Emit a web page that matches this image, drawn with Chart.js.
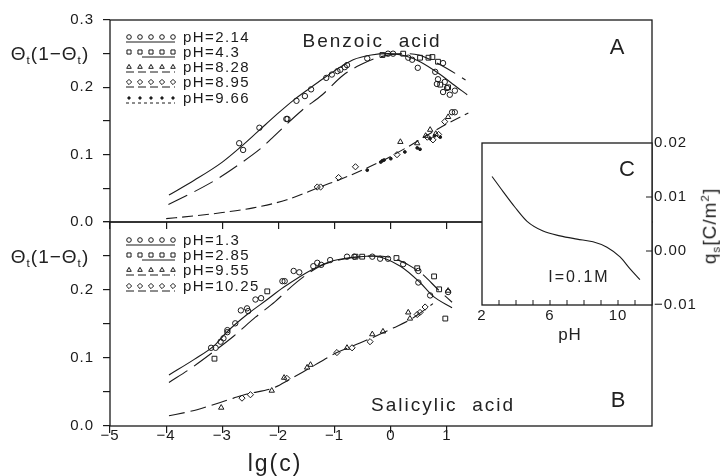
<!DOCTYPE html>
<html><head><meta charset="utf-8">
<script src="https://cdn.jsdelivr.net/npm/chart.js@4"></script>
<style>
html,body{margin:0;padding:0;background:#fff;}
#wrap{position:relative;width:725px;height:476px;overflow:hidden;font-family:"Liberation Sans",Arial,sans-serif;color:#222;}
canvas{position:absolute;left:0;top:0;}
.lbl{position:absolute;transform:translate(-50%,-50%);white-space:nowrap;line-height:1;z-index:5;}
.lbl sub{font-size:0.62em;vertical-align:-0.3em;}
.lbl sup{font-size:0.62em;vertical-align:0.6em;}
</style></head>
<body><div id="wrap">
<canvas id="cA" width="725" height="476"></canvas>
<canvas id="cB" width="725" height="476"></canvas>
<canvas id="cC" width="725" height="476"></canvas>
<div class="lbl" style="left:50px;top:55px;font-size:19px;letter-spacing:1px">Θ<sub>t</sub>(1−Θ<sub>t</sub>)</div>
<div class="lbl" style="left:50px;top:258px;font-size:19px;letter-spacing:1px">Θ<sub>t</sub>(1−Θ<sub>t</sub>)</div>
<div class="lbl" style="left:372px;top:40px;font-size:19px;letter-spacing:2px">Benzoic&nbsp; acid</div>
<div class="lbl" style="left:617px;top:47px;font-size:22px">A</div>
<div class="lbl" style="left:443px;top:404px;font-size:19px;letter-spacing:2px">Salicylic&nbsp; acid</div>
<div class="lbl" style="left:618px;top:400px;font-size:22px">B</div>
<div class="lbl" style="left:627px;top:169px;font-size:22px">C</div>
<div class="lbl" style="left:579px;top:277px;font-size:16px;letter-spacing:2px">I=0.1M</div>
<div class="lbl" style="left:570px;top:334px;font-size:17px;letter-spacing:1px">pH</div>
<div class="lbl" style="left:275px;top:463px;font-size:23px;letter-spacing:2px">lg(c)</div>
<div class="lbl" style="left:710px;top:226px;font-size:19px;letter-spacing:1px;transform:translate(-50%,-50%) rotate(-90deg)">q<sub>s</sub>[C/m<sup>2</sup>]</div>
</div>
<script>
// ---------- ticks ----------
const xTicks = [-5, -4, -3, -2, -1, 0, 1];
const yTicks = [0, 0.05, 0.1, 0.15, 0.2, 0.25, 0.3];
const pHTicks = [2, 3, 4, 5, 6, 7, 8, 9, 10, 11, 12];
const pHLabels = [2, 6, 10];
const qTicks = [-0.01, 0, 0.01, 0.02];

// ---------- Panel A : Benzoic acid ----------
const benzoicLabels = ['pH=2.14', 'pH=4.3', 'pH=8.28', 'pH=8.95', 'pH=9.66'];
const aPH214_x = [-2.7, -2.63, -2.34, -1.86, -1.84, -1.68, -1.53, -1.42, -1.15, -1.05, -0.95, -0.9, -0.82, -0.78, -0.42, -0.05, 0.04, 0.31, 0.38, 0.48, 0.93, 0.79, 0.84, 0.82, 0.96, 1.0, 0.93, 1.05, 1.14, 1.09, 1.14];
const aPH214_y = [0.117, 0.107, 0.140, 0.153, 0.153, 0.180, 0.187, 0.197, 0.214, 0.219, 0.224, 0.226, 0.230, 0.233, 0.243, 0.250, 0.250, 0.244, 0.241, 0.229, 0.236, 0.223, 0.212, 0.205, 0.208, 0.199, 0.193, 0.189, 0.195, 0.163, 0.163];
const aPH43_x = [-0.15, 0.22, 0.52, 0.67, 0.74, 0.84, 0.88, 1.02];
const aPH43_y = [0.248, 0.250, 0.244, 0.244, 0.245, 0.238, 0.204, 0.200];
const aPH828_x = [0.17, 0.47, 0.62, 0.7, 0.8, 1.02];
const aPH828_y = [0.119, 0.117, 0.128, 0.137, 0.131, 0.156];
const aPH895_x = [-1.31, -1.25, -0.93, -0.63, 0.11, 0.65, 0.75, 0.85, 0.96];
const aPH895_y = [0.052, 0.052, 0.066, 0.082, 0.100, 0.126, 0.122, 0.130, 0.149];
const aPH966_x = [-0.42, -0.18, -0.15, -0.12, 0.0, 0.25, 0.47, 0.52, 0.7, 0.78, 0.88];
const aPH966_y = [0.077, 0.089, 0.091, 0.092, 0.094, 0.104, 0.110, 0.108, 0.124, 0.128, 0.126];
// model curves
const aFitLow_x = [-3.95, -3.5, -3.0, -2.68, -2.36, -2.0, -1.73, -1.42, -1.17, -0.9, -0.67, -0.35, -0.05, 0.25, 0.52, 0.88, 1.1, 1.36];
const aFitLow_y = [0.040, 0.062, 0.089, 0.111, 0.135, 0.162, 0.181, 0.200, 0.215, 0.230, 0.241, 0.248, 0.250, 0.247, 0.238, 0.219, 0.205, 0.189];
const aFitMid_x = [-3.96, -3.5, -3.07, -2.71, -2.29, -2.11, -1.58, -1.22, -0.85, -0.55, -0.2, 0.2, 0.5, 0.7, 1.0, 1.33];
const aFitMid_y = [0.026, 0.045, 0.065, 0.085, 0.111, 0.125, 0.166, 0.189, 0.218, 0.233, 0.245, 0.250, 0.248, 0.241, 0.228, 0.211];
const aFitHigh_x = [-4.0, -3.5, -3.0, -2.45, -1.85, -1.26, -0.76, -0.13, 0.29, 0.75, 1.05, 1.38];
const aFitHigh_y = [0.005, 0.009, 0.014, 0.021, 0.033, 0.052, 0.068, 0.092, 0.111, 0.134, 0.148, 0.162];

// ---------- Panel B : Salicylic acid ----------
const salicylicLabels = ['pH=1.3', 'pH=2.85', 'pH=9.55', 'pH=10.25'];
const bPH13_x = [-3.2, -3.12, -3.03, -2.98, -2.91, -2.91, -2.77, -2.67, -2.56, -2.54, -2.41, -2.31, -1.93, -1.89, -1.73, -1.63, -1.38, -1.31, -1.24, -1.08, -0.78, -0.65, -0.33, -0.19, -0.05, 0.22, 0.49, 0.49, 0.7, 1.02];
const bPH13_y = [0.115, 0.115, 0.124, 0.129, 0.138, 0.141, 0.151, 0.170, 0.173, 0.169, 0.186, 0.188, 0.213, 0.213, 0.228, 0.226, 0.235, 0.240, 0.237, 0.244, 0.249, 0.249, 0.249, 0.246, 0.246, 0.238, 0.228, 0.211, 0.192, 0.197];
const bPH285_x = [-3.14, -2.2, -0.63, -0.51, 0.1, 0.47, 0.77, 0.86, 0.97];
const bPH285_y = [0.099, 0.198, 0.249, 0.249, 0.247, 0.232, 0.220, 0.201, 0.158];
const bPH955_x = [-3.02, -2.12, -1.9, -1.49, -1.43, -0.78, -0.33, -0.14, 0.31, 0.34, 1.02];
const bPH955_y = [0.027, 0.052, 0.071, 0.086, 0.090, 0.115, 0.135, 0.139, 0.167, 0.158, 0.199];
const bPH1025_x = [-2.65, -2.5, -1.85, -0.96, -0.69, -0.37, 0.47, 0.52, 0.61];
const bPH1025_y = [0.041, 0.046, 0.070, 0.108, 0.115, 0.124, 0.164, 0.167, 0.175];
const bFitLow_x = [-3.95, -3.5, -3.16, -2.91, -2.56, -2.2, -1.91, -1.38, -1.03, -0.55, -0.32, 0.17, 0.52, 0.75, 1.09];
const bFitLow_y = [0.075, 0.098, 0.117, 0.139, 0.164, 0.186, 0.204, 0.231, 0.243, 0.249, 0.250, 0.235, 0.211, 0.191, 0.174];
const bFitMid_x = [-3.95, -3.54, -3.16, -2.8, -2.41, -2.06, -1.67, -1.26, -0.8, -0.3, 0.07, 0.52, 0.85, 1.09];
const bFitMid_y = [0.064, 0.086, 0.109, 0.132, 0.160, 0.183, 0.212, 0.235, 0.246, 0.250, 0.246, 0.226, 0.200, 0.182];
const bFitHigh_x = [-3.95, -3.6, -3.45, -2.8, -2.56, -2.09, -1.79, -1.49, -0.96, -0.55, -0.14, 0.04, 0.34, 0.52, 0.75];
const bFitHigh_y = [0.015, 0.021, 0.024, 0.041, 0.047, 0.056, 0.069, 0.083, 0.108, 0.122, 0.137, 0.144, 0.156, 0.166, 0.180];

// ---------- Panel C : surface charge vs pH ----------
const cPH = [2.59, 3.24, 3.94, 4.65, 5.59, 6.59, 7.59, 8.53, 9.35, 10.12, 10.71, 11.29];
const cQ = [0.0138, 0.0110, 0.0081, 0.0055, 0.0037, 0.0028, 0.0022, 0.0017, 0.0007, -0.0011, -0.0033, -0.0053];

// ---------- helpers ----------
const INK = '#1a1a1a';
const FONT = '"Liberation Sans", Arial, sans-serif';
const TICKFONT = { size: 15, family: FONT };
const pts = (xs, ys) => xs.map((x, i) => ({ x: x, y: ys[i] }));
const minus = s => String(s).replace('-', '\u2212');

const STY = {
  circle: { pointStyle: 'circle', pointRadius: 2.7, pointBorderWidth: 1, fill: false },
  square: { pointStyle: 'rect', pointRadius: 3.4, pointBorderWidth: 1, fill: false },
  tri: { pointStyle: 'triangle', pointRadius: 3.1, pointBorderWidth: 1, fill: false },
  diamond: { pointStyle: 'rectRot', pointRadius: 3.1, pointBorderWidth: 1, fill: false },
  dot: { pointStyle: 'circle', pointRadius: 1.4, pointBorderWidth: 1, fill: true }
};
function pointSet(label, xs, ys, st) {
  const s = STY[st];
  return { label: label, data: pts(xs, ys), showLine: false, pointStyle: s.pointStyle, pointRadius: s.pointRadius,
    pointBorderWidth: s.pointBorderWidth, pointBorderColor: INK, pointBackgroundColor: s.fill ? INK : 'rgba(0,0,0,0)' };
}
function curveSet(xs, ys, dash) {
  return { label: '', data: pts(xs, ys), showLine: true, pointRadius: 0, borderColor: INK, borderWidth: 1.1,
    borderDash: dash, cubicInterpolationMode: 'monotone', fill: false };
}

const framePlugin = {
  id: 'frame',
  beforeDraw(chart, args, opts) {
    chart.ctx.letterSpacing = opts.ls || '1px';
    if (opts.white) {
      const a = chart.chartArea;
      chart.ctx.save(); chart.ctx.fillStyle = '#fff';
      chart.ctx.fillRect(a.left, a.top, a.right - a.left, a.bottom - a.top);
      chart.ctx.restore();
    }
  },
  afterDraw(chart, args, opts) {
    const a = chart.chartArea, ctx = chart.ctx;
    ctx.save(); ctx.strokeStyle = INK; ctx.lineWidth = 1.3;
    ctx.strokeRect(a.left, a.top, a.right - a.left, a.bottom - a.top);
    if (opts.inward) {
      const xs = chart.scales.x, ys = chart.scales.y;
      ctx.lineWidth = 1;
      xs.ticks.forEach(t => {
        if (t.value <= xs.min || t.value >= xs.max) return;
        const p = xs.getPixelForValue(t.value);
        ctx.beginPath(); ctx.moveTo(p, a.bottom); ctx.lineTo(p, a.bottom - 5); ctx.stroke();
      });
      ys.ticks.forEach(t => {
        if (t.value <= ys.min || t.value >= ys.max) return;
        const p = ys.getPixelForValue(t.value);
        ctx.beginPath(); ctx.moveTo(a.right, p); ctx.lineTo(a.right - 6, p); ctx.stroke();
      });
    }
    ctx.restore();
  }
};

const legendPlugin = {
  id: 'symLegend',
  afterDraw(chart, args, opts) {
    if (!opts.rows) return;
    const ctx = chart.ctx;
    ctx.save();
    ctx.font = '15px ' + FONT; ctx.fillStyle = INK; ctx.textBaseline = 'middle';
    ctx.letterSpacing = '1.4px';
    opts.rows.forEach((r, i) => {
      const y = opts.ys[i];
      const ds = chart.data.datasets[r.ds];
      ctx.save(); ctx.strokeStyle = INK; ctx.lineWidth = 1;
      ctx.setLineDash(r.line === 'dash' ? [8, 4] : r.line === 'dot' ? [3, 3] : []);
      ctx.beginPath();
      ctx.moveTo(opts.x + (r.line === 'partial' ? 14 : -2), y + 4);
      ctx.lineTo(opts.x + 47, y + 4); ctx.stroke(); ctx.restore();
      for (let k = 0; k < 5; k++) {
        ctx.save();
        ctx.strokeStyle = INK; ctx.lineWidth = 1; ctx.fillStyle = ds.pointBackgroundColor;
        Chart.helpers.drawPoint(ctx, { pointStyle: ds.pointStyle, radius: ds.pointRadius * 0.85, borderWidth: 1, rotation: 0 },
          opts.x + 1 + k * 11, y - 1);
        ctx.restore();
      }
      ctx.fillStyle = INK;
      ctx.fillText(ds.label, opts.x + 55, y);
    });
    ctx.restore();
  }
};
Chart.register(framePlugin, legendPlugin);

function yCallback(excludeTop) {
  return v => {
    const t = Math.round(v * 100);
    if (t % 10 !== 0) return '';
    if (excludeTop && t === 30) return '';
    return v.toFixed(1);
  };
}

function mainOptions(o) {
  return {
    responsive: false, animation: false, events: [],
    layout: { padding: { left: 30, right: 73, top: o.top, bottom: o.bottom } },
    plugins: { legend: { display: false }, tooltip: { enabled: false },
      frame: {}, symLegend: { x: 128, ys: o.legendY, rows: o.rows } },
    scales: {
      x: { type: 'linear', min: -5, max: 4.65,
        afterBuildTicks: ax => { ax.ticks = xTicks.map(v => ({ value: v })); },
        afterFit: s => { s.height = o.xh; },
        grid: { drawOnChartArea: false, tickLength: 7, color: INK, lineWidth: 1.2 },
        border: { display: false },
        ticks: { display: o.xLabels, padding: -6, maxRotation: 0, autoSkip: false,
          font: TICKFONT, color: INK, callback: v => minus(v) } },
      y: { type: 'linear', min: 0, max: 0.3,
        afterBuildTicks: ax => { ax.ticks = yTicks.map(v => ({ value: v })); },
        afterFit: s => { s.width = 80; },
        grid: { drawOnChartArea: false, tickLength: 7, color: INK, lineWidth: 1.2 },
        border: { display: false },
        ticks: { padding: 9, autoSkip: false, font: TICKFONT, color: INK, callback: yCallback(o.excludeTop) } }
    }
  };
}

// Chart A
new Chart(document.getElementById('cA'), {
  type: 'scatter',
  data: { datasets: [
    pointSet(benzoicLabels[0], aPH214_x, aPH214_y, 'circle'),
    pointSet(benzoicLabels[1], aPH43_x, aPH43_y, 'square'),
    pointSet(benzoicLabels[2], aPH828_x, aPH828_y, 'tri'),
    pointSet(benzoicLabels[3], aPH895_x, aPH895_y, 'diamond'),
    pointSet(benzoicLabels[4], aPH966_x, aPH966_y, 'dot'),
    curveSet(aFitLow_x, aFitLow_y, []),
    curveSet(aFitMid_x, aFitMid_y, [21, 8]),
    curveSet(aFitHigh_x, aFitHigh_y, [11, 5])
  ] },
  options: mainOptions({ top: 20, bottom: 476 - 222 - 8, xh: 8, xLabels: false, excludeTop: false,
    legendY: [38, 53, 68, 83, 99],
    rows: [{ ds: 0, line: 'solid' }, { ds: 1, line: 'partial' }, { ds: 2, line: 'dash' }, { ds: 3, line: 'dash' }, { ds: 4, line: 'dot' }] })
});

// Chart B
new Chart(document.getElementById('cB'), {
  type: 'scatter',
  data: { datasets: [
    pointSet(salicylicLabels[0], bPH13_x, bPH13_y, 'circle'),
    pointSet(salicylicLabels[1], bPH285_x, bPH285_y, 'square'),
    pointSet(salicylicLabels[2], bPH955_x, bPH955_y, 'tri'),
    pointSet(salicylicLabels[3], bPH1025_x, bPH1025_y, 'diamond'),
    curveSet(bFitLow_x, bFitLow_y, []),
    curveSet(bFitMid_x, bFitMid_y, [22, 8]),
    curveSet(bFitHigh_x, bFitHigh_y, [16, 6])
  ] },
  options: mainOptions({ top: 222, bottom: 476 - 426 - 40, xh: 40, xLabels: true, excludeTop: true,
    legendY: [241, 256, 271, 287],
    rows: [{ ds: 0, line: 'solid' }, { ds: 1, line: 'partial' }, { ds: 2, line: 'dash' }, { ds: 3, line: 'dash' }] })
});

// Chart C (inset)
new Chart(document.getElementById('cC'), {
  type: 'scatter',
  data: { datasets: [ curveSet(cPH, cQ, []) ] },
  options: {
    responsive: false, animation: false, events: [],
    layout: { padding: { left: 482, right: 725 - 652 - 72, top: 143, bottom: 476 - 305 - 30 } },
    plugins: { legend: { display: false }, tooltip: { enabled: false }, frame: { white: true, inward: true }, symLegend: {} },
    scales: {
      x: { type: 'linear', min: 2, max: 12,
        afterBuildTicks: ax => { ax.ticks = pHTicks.map(v => ({ value: v })); },
        afterFit: s => { s.height = 30; },
        grid: { display: false, drawTicks: false }, border: { display: false },
        ticks: { padding: 2, maxRotation: 0, autoSkip: false, font: TICKFONT, color: INK,
          callback: v => pHLabels.includes(v) ? String(v) : '' } },
      y: { type: 'linear', position: 'right', min: -0.01, max: 0.02,
        afterBuildTicks: ax => { ax.ticks = qTicks.map(v => ({ value: v })); },
        afterFit: s => { s.width = 72; },
        grid: { display: false, drawTicks: false }, border: { display: false },
        ticks: { padding: 2, autoSkip: false, font: TICKFONT, color: INK,
          callback: v => minus(v.toFixed(2)) } }
    }
  }
});
</script>
</body></html>
